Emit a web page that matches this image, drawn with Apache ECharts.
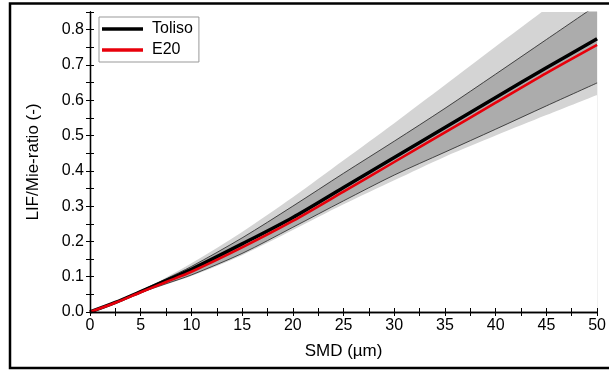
<!DOCTYPE html>
<html>
<head>
<meta charset="utf-8">
<script src="https://cdn.jsdelivr.net/npm/echarts@6/dist/echarts.min.js"></script>
<style>
  html, body { margin: 0; padding: 0; background: #fff; }
  #chart { width: 609px; height: 371px; }
</style>
</head>
<body>
<div id="chart"></div>
<script>
// SMD sample points (µm)
const smd = [0, 2.5, 5, 7.5, 10, 15, 20, 25, 30, 35, 40, 45, 50]

// mean curves
const toliso = [0, 0.027, 0.058, 0.089, 0.121, 0.193, 0.268, 0.353, 0.438, 0.523, 0.608, 0.692, 0.774]
const e20 = [0, 0.026, 0.056, 0.085, 0.114, 0.183, 0.258, 0.341, 0.425, 0.509, 0.593, 0.677, 0.757]

// uncertainty bands
const outerHi = [0, 0.028, 0.062, 0.098, 0.138, 0.227, 0.325, 0.43, 0.535, 0.643, 0.752, 0.86, 0.97]
const outerLo = [0, 0.025, 0.054, 0.078, 0.102, 0.161, 0.232, 0.305, 0.373, 0.44, 0.50, 0.558, 0.615]
const innerHi = [0, 0.027, 0.060, 0.094, 0.129, 0.21, 0.30, 0.393, 0.484, 0.577, 0.674, 0.772, 0.87]
const innerLo = [0, 0.026, 0.055, 0.080, 0.105, 0.166, 0.24, 0.315, 0.388, 0.453, 0.518, 0.584, 0.649]

const font = 'Arial, "Liberation Sans", sans-serif'
const LIGHT = '#d4d4d4'
const DARK = '#acacac'

const pairs = (ys) => smd.map((x, i) => [x, ys[i]])

// bands are layered fills down to zero: outer-hi, inner-hi, inner-lo, outer-lo (white)
const fill = (name, ys, color, edge) => ({
  type: 'line', name, symbol: 'none', silent: true, smooth: 0.3,
  data: pairs(ys),
  lineStyle: edge ? { width: 0.8, color: '#222' } : { width: 0 },
  areaStyle: { color, opacity: 1 },
})

const chart = echarts.init(document.getElementById('chart'), undefined, { renderer: 'canvas' })

const axisCommon = {
  z: 10,
  axisLine: { lineStyle: { color: '#000', width: 1.3 } },
  axisTick: { inside: true, length: 4, lineStyle: { color: '#000', width: 1 } },
  splitLine: { show: false },
}

chart.setOption({
  animation: false,
  backgroundColor: '#fff',
  grid: { left: 90, right: 7, top: 12, bottom: 59 },
  legend: {
    z: 20,
    data: [
      { name: 'Toliso', icon: 'rect' },
      { name: 'E20', icon: 'rect' },
    ],
    orient: 'vertical',
    left: 99,
    top: 17,
    padding: [3, 6, 3, 3],
    itemGap: 3,
    itemWidth: 41,
    itemHeight: 3.5,
    backgroundColor: '#fff',
    borderColor: '#999',
    borderWidth: 1,
    textStyle: { fontFamily: font, fontSize: 16, color: '#000', padding: [0, 0, 0, 4], lineHeight: 18 },
  },
  xAxis: [
    {
      ...axisCommon,
      type: 'value', min: 0, max: 50, interval: 2.5,
      name: 'SMD (µm)', nameLocation: 'middle', nameGap: 31,
      nameTextStyle: { fontFamily: font, fontSize: 17, color: '#000' },
      axisLabel: {
        fontFamily: font, fontSize: 16, color: '#000', margin: 6,
        formatter: (v) => (Math.round(v * 10) % 50 === 0 ? String(v) : ''),
      },
    },
    {
      ...axisCommon,
      type: 'value', position: 'top', min: 0, max: 50, interval: 2.5,
      axisLabel: { show: false },
    },
  ],
  yAxis: [
    {
      ...axisCommon,
      type: 'value', min: 0, max: 0.85, interval: 0.05,
      name: 'LIF/Mie-ratio (-)', nameLocation: 'middle', nameGap: 48,
      nameTextStyle: { fontFamily: font, fontSize: 17, color: '#000' },
      axisLabel: {
        fontFamily: font, fontSize: 16, color: '#000', margin: 6,
        formatter: (v) => (Math.round(v * 100) % 10 === 0 ? v.toFixed(1) : ''),
      },
    },
    {
      ...axisCommon,
      type: 'value', position: 'right', min: 0, max: 0.85, interval: 0.05,
      axisLabel: { show: false },
    },
  ],
  series: [
    fill('outerHi', outerHi, LIGHT, false),
    fill('innerHi', innerHi, DARK, true),
    fill('innerLo', innerLo, LIGHT, true),
    fill('outerLo', outerLo, '#fff', false),
    {
      type: 'line', name: 'Toliso', symbol: 'none', smooth: 0.3, data: pairs(toliso),
      lineStyle: { color: '#000', width: 3.5 }, itemStyle: { color: '#000' },
    },
    {
      type: 'line', name: 'E20', symbol: 'none', smooth: 0.3, data: pairs(e20),
      lineStyle: { color: '#e8000b', width: 2.6 }, itemStyle: { color: '#e8000b' },
    },
  ],
  graphic: [
    {
      type: 'rect', silent: true, z: 30,
      shape: { x: 10, y: 3.5, width: 640, height: 364.5 },
      style: { fill: 'none', stroke: '#000', lineWidth: 2.5 },
    },
  ],
})
</script>
</body>
</html>
